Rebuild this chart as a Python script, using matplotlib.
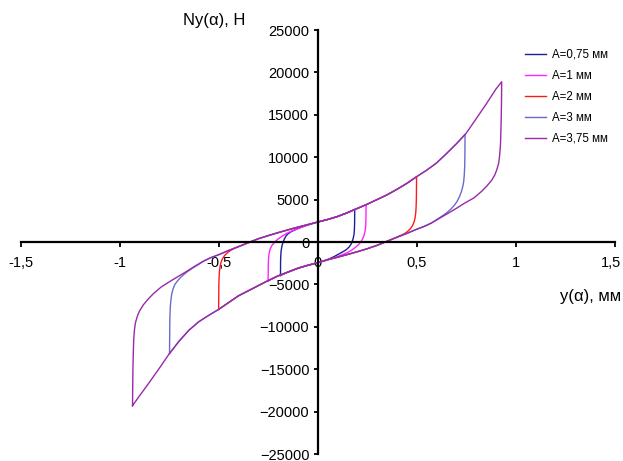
import matplotlib.pyplot as plt
from matplotlib.transforms import ScaledTranslation

plt.rcParams['font.family'] = ['Liberation Sans', 'DejaVu Sans']

# loop amplitudes (legend) and colours
labels = ['A=0,75 мм', 'A=1 мм', 'A=2 мм', 'A=3 мм', 'A=3,75 мм']
colors = ['#1e1e96', '#ff22ff', '#ff1a1a', '#6a6acc', '#9a2aa8']

# A=0,75 mm : branch going right (up), branch going left (down)
x075_up = [-0.1875, -0.1872, -0.187, -0.186, -0.184, -0.18, -0.175, -0.168, -0.16, -0.15, -0.135,
           -0.115, -0.09, -0.06, -0.03, 0.0, 0.05, 0.1, 0.15, 0.1875]
y075_up = [-3950, -3000, -2300, -1600, -1000, -450, -50, 350, 700, 950, 1200,
           1430, 1680, 1930, 2150, 2350, 2650, 3000, 3450, 3850]
x075_dn = [0.1875, 0.1872, 0.187, 0.186, 0.184, 0.18, 0.175, 0.168, 0.159, 0.145, 0.13,
           0.11, 0.085, 0.06, 0.03, 0.0, -0.05, -0.1, -0.15, -0.1875]
y075_dn = [3850, 3000, 2200, 1500, 900, 450, 50, -300, -600, -900, -1120,
           -1380, -1700, -1980, -2230, -2450, -2750, -3100, -3550, -3950]

# A=1 mm
x1_up = [-0.25, -0.2495, -0.249, -0.248, -0.245, -0.24, -0.232, -0.22, -0.205, -0.19, -0.17, -0.153,
         -0.13, -0.105, -0.08, -0.05, -0.025, 0.0, 0.05, 0.1, 0.15, 0.2, 0.245]
y1_up = [-4600, -3500, -2700, -2000, -1350, -850, -450, -100, 250, 520, 820, 1050,
         1300, 1520, 1750, 2000, 2180, 2350, 2650, 3000, 3450, 3950, 4400]
x1_dn = [0.245, 0.2445, 0.244, 0.243, 0.24, 0.235, 0.228, 0.218, 0.205, 0.19, 0.17, 0.15,
         0.125, 0.1, 0.075, 0.05, 0.025, 0.0, -0.05, -0.1, -0.15, -0.2, -0.25]
y1_dn = [4400, 3400, 2600, 1900, 1300, 800, 400, 0, -350, -650, -1000, -1250,
         -1500, -1720, -1920, -2100, -2280, -2450, -2750, -3100, -3550, -4000, -4600]

# A=2 mm
x2_up = [-0.5, -0.4995, -0.499, -0.498, -0.496, -0.493, -0.488, -0.48, -0.47, -0.455, -0.44, -0.42,
         -0.4, -0.38, -0.35, -0.3, -0.25, -0.2, -0.15, -0.1, -0.05, 0.0, 0.05, 0.1, 0.15, 0.2,
         0.25, 0.3, 0.35, 0.4, 0.45, 0.5]
y2_up = [-7950, -6500, -5300, -4300, -3500, -2900, -2400, -1950, -1600, -1250, -1000, -750,
         -560, -370, -85, 380, 750, 1100, 1430, 1750, 2050, 2350, 2650, 3000, 3450, 3950,
         4450, 5000, 5550, 6200, 6900, 7700]
x2_dn = [0.5, 0.4995, 0.499, 0.498, 0.496, 0.493, 0.488, 0.48, 0.47, 0.455, 0.44, 0.42,
         0.4, 0.38, 0.35, 0.3, 0.25, 0.2, 0.15, 0.1, 0.05, 0.0, -0.05, -0.1, -0.15, -0.2,
         -0.25, -0.3, -0.35, -0.4, -0.45, -0.5]
y2_dn = [7700, 6300, 5200, 4300, 3500, 2900, 2400, 1950, 1600, 1250, 1000, 780,
         570, 370, 85, -400, -800, -1150, -1480, -1800, -2100, -2450, -2750, -3100, -3550, -4000,
         -4550, -5150, -5750, -6350, -7150, -7950]

# A=3 mm
x3_up = [-0.748, -0.7475, -0.747, -0.746, -0.744, -0.741, -0.737, -0.731, -0.722, -0.71, -0.695,
         -0.677, -0.655, -0.63, -0.6, -0.576, -0.54, -0.5, -0.45, -0.4, -0.35, -0.3, -0.25, -0.2,
         -0.15, -0.1, -0.05, 0.0, 0.05, 0.1, 0.15, 0.2, 0.25, 0.3, 0.35, 0.4, 0.45, 0.5, 0.55,
         0.6, 0.65, 0.7, 0.745]
y3_up = [-13150, -11500, -10000, -8700, -7600, -6800, -6150, -5600, -5050, -4650, -4250,
         -3850, -3450, -3050, -2620, -2250, -1850, -1500, -1000, -550, -80, 380, 750, 1100,
         1430, 1750, 2050, 2350, 2650, 3000, 3450, 3950, 4450, 5000, 5550, 6200, 6900, 7700, 8450,
         9300, 10400, 11550, 12700]
x3_dn = [0.745, 0.7445, 0.744, 0.743, 0.741, 0.738, 0.733, 0.726, 0.716, 0.705, 0.69,
         0.672, 0.65, 0.625, 0.6, 0.576, 0.54, 0.5, 0.45, 0.4, 0.35, 0.3, 0.25, 0.2,
         0.15, 0.1, 0.05, 0.0, -0.05, -0.1, -0.15, -0.2, -0.25, -0.3, -0.35, -0.4, -0.45, -0.5, -0.55,
         -0.6, -0.65, -0.7, -0.748]
y3_dn = [12700, 11200, 9900, 8800, 7900, 7100, 6500, 5900, 5300, 4800, 4300,
         3850, 3400, 3000, 2620, 2250, 1850, 1500, 1000, 550, 80, -400, -800, -1150,
         -1480, -1800, -2100, -2450, -2750, -3100, -3550, -4000, -4550, -5150, -5750, -6350, -7150, -7950, -8650,
         -9400, -10400, -11700, -13150]

# A=3,75 mm
x375_up = [-0.935, -0.934, -0.933, -0.931, -0.929, -0.925, -0.92, -0.91, -0.9, -0.88, -0.855, -0.83,
           -0.79, -0.744, -0.7, -0.66, -0.62, -0.576, -0.54, -0.5, -0.45, -0.4, -0.35, -0.3, -0.25,
           -0.2, -0.15, -0.1, -0.05, 0.0, 0.05, 0.1, 0.15, 0.2, 0.25, 0.3, 0.35, 0.4, 0.45, 0.5,
           0.55, 0.6, 0.65, 0.7, 0.75, 0.8, 0.85, 0.9, 0.93]
y375_up = [-19300, -17000, -15000, -13000, -11500, -10300, -9500, -8700, -8150, -7400, -6700, -6100,
           -5300, -4620, -4000, -3440, -2850, -2250, -1850, -1500, -1000, -550, -80, 380, 750,
           1100, 1430, 1750, 2050, 2350, 2650, 3000, 3450, 3950, 4450, 5000, 5550, 6200, 6900, 7700,
           8450, 9300, 10400, 11550, 12800, 14500, 16200, 18000, 18900]
x375_dn = [0.93, 0.929, 0.928, 0.926, 0.924, 0.92, 0.915, 0.905, 0.895, 0.88, 0.855, 0.83,
           0.79, 0.744, 0.7, 0.66, 0.62, 0.576, 0.54, 0.5, 0.45, 0.4, 0.35, 0.3, 0.25,
           0.2, 0.15, 0.1, 0.05, 0.0, -0.05, -0.1, -0.15, -0.2, -0.25, -0.3, -0.35, -0.4, -0.45, -0.5,
           -0.55, -0.6, -0.65, -0.7, -0.75, -0.8, -0.85, -0.9, -0.935]
y375_dn = [18900, 16500, 15000, 13000, 11500, 10300, 9300, 8500, 7900, 7300, 6600, 6000,
           5200, 4600, 3950, 3400, 2850, 2250, 1850, 1500, 1000, 550, 80, -400, -800,
           -1150, -1480, -1800, -2100, -2450, -2750, -3100, -3550, -4000, -4550, -5150, -5750, -6350, -7150, -7950,
           -8650, -9400, -10400, -11700, -13200, -14900, -16550, -18150, -19300]

loops = [(x075_up, y075_up, x075_dn, y075_dn),
         (x1_up, y1_up, x1_dn, y1_dn),
         (x2_up, y2_up, x2_dn, y2_dn),
         (x3_up, y3_up, x3_dn, y3_dn),
         (x375_up, y375_up, x375_dn, y375_dn)]

xticks = [-1.5, -1, -0.5, 0, 0.5, 1, 1.5]
xticklabels = ['-1,5', '-1', '-0,5', '0', '0,5', '1', '1,5']
yticks = list(range(-25000, 25001, 5000))

fig = plt.figure(figsize=(6.23, 4.61), dpi=100)
ax = fig.add_axes([20.7 / 623, 7 / 461, 593.8 / 623, 424 / 461])

for (xu, yu, xd, yd), c, lab in zip(loops, colors, labels):
    ax.plot(xu + xd, yu + yd, color=c, lw=1.0, label=lab)

ax.set_xlim(-1.5, 1.5)
ax.set_ylim(-25000, 25000)
ax.spines['left'].set_position(('data', 0))
ax.spines['bottom'].set_position(('data', 0))
ax.spines['top'].set_visible(False)
ax.spines['right'].set_visible(False)
ax.spines['left'].set_linewidth(1.6)
ax.spines['bottom'].set_linewidth(1.6)
ax.set_xticks(xticks)
ax.set_xticklabels(xticklabels)
ax.set_yticks(yticks)
ax.tick_params(axis='x', direction='out', length=3.5, width=1.3, pad=6.5, labelsize=10.5)
ax.tick_params(axis='y', direction='out', length=3, width=1.3, pad=3, labelsize=10.5)

# keep the last x label inside the picture, as in the original
last = ax.get_xticklabels()[-1]
last.set_transform(last.get_transform() + ScaledTranslation(-4 / 100, 0, fig.dpi_scale_trans))

fig.text(183 / 623, 1 - 20 / 461, 'Ny(\u03b1), Н', fontsize=12, ha='left', va='center')
fig.text(560 / 623, 1 - 297 / 461, 'y(\u03b1), мм', fontsize=12, ha='left', va='center')

ax.legend(loc='upper left', bbox_to_anchor=(525 / 623, 1 - 49 / 461), bbox_transform=fig.transFigure,
          frameon=False, fontsize=8.3, handlelength=1.8, handletextpad=0.5, labelspacing=0.78,
          borderpad=0, borderaxespad=0)

fig.savefig('out.png', dpi=100)
